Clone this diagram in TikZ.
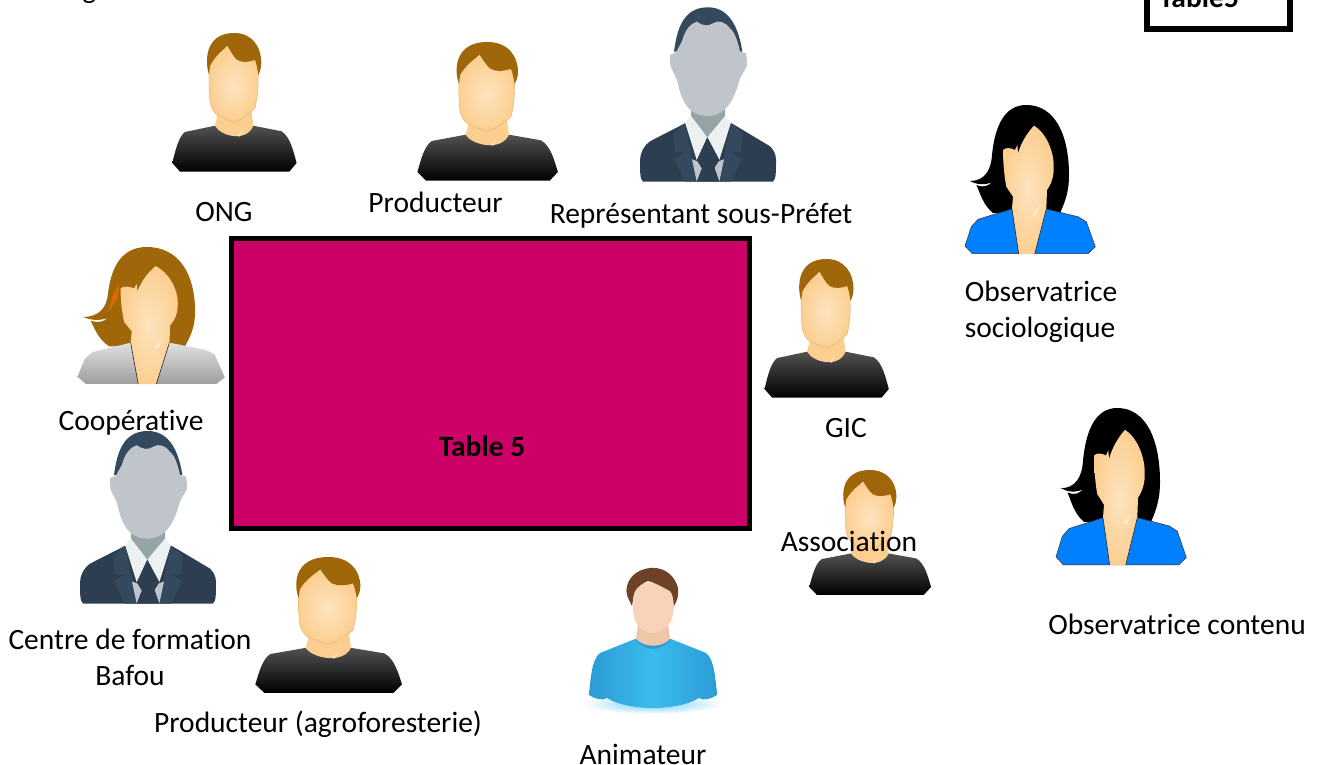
\documentclass[tikz,border=0pt]{standalone}
\usepackage{fontspec}
\setmainfont[Ligatures=NoCommon]{Carlito}
\usetikzlibrary{positioning}
\definecolor{skincol}{HTML}{FCCF91}
\definecolor{skinlight}{HTML}{FDE3BE}
\definecolor{skinline}{HTML}{E0B070}
\definecolor{hairbrown}{HTML}{A0660A}
\definecolor{jacketblue}{HTML}{0080FF}
\definecolor{suitdark}{HTML}{2C3E50}
\definecolor{suitlight}{HTML}{34495E}
\definecolor{facegrey}{HTML}{BFC5CA}
\definecolor{neckgrey}{HTML}{95A5A6}
\definecolor{collarwhite}{HTML}{ECF0F1}
\definecolor{tablecol}{HTML}{CC0066}
\definecolor{animblue}{HTML}{3BBBEC}
\definecolor{animside}{HTML}{2B9BD6}
\definecolor{animskin}{HTML}{F8D3BA}
\definecolor{animhair}{HTML}{6E4226}
\tikzset{
  lbl/.style={font=\fontsize{29.5}{36}\selectfont, inner sep=0pt, align=center},
  lblbold/.style={lbl, font=\fontsize{29.5}{36}\selectfont\bfseries},
  skinface/.style={inner color=skinlight, outer color=skincol},
  tablebox/.style={draw=black, line width=5.5pt, fill=tablecol, inner sep=0pt},
  pics/manperson/.style={code={
    \shade[top color=black!68, bottom color=black] (-62,130) -- (-54.3,138.7) -- (55,138.7) -- (62.3,130)
      .. controls (59,118) and (56,104) .. (47.3,98.3) -- (19,92.7) -- (-19.3,92.7) -- (-49.3,99)
      .. controls (-56,104) and (-59,118) .. cycle;
    \fill[skincol] (-16,78) -- (-19.3,92.7) .. controls (-14,103) and (12,110) .. (19,92.7) -- (17.3,78) -- cycle;
    \shade[skinface, draw=skinline, line width=.4pt] (-25.3,41.7) .. controls (-25.5,55) and (-25,64) .. (-24.3,70)
      .. controls (-23,75) and (-20,80) .. (-17.7,81.7) .. controls (-10,85) and (-5,88) .. (0,89)
      .. controls (7,87) and (15,80) .. (20.7,75) .. controls (23,65) and (24,55) .. (24,41.7)
      -- (24,15) -- (-25,15) -- cycle;
    \fill[hairbrown] (-25.3,41.7) .. controls (-29,31) and (-31,0) .. (0,0)
      .. controls (18,0) and (27,14) .. (27,30) .. controls (27,34) and (26,38) .. (24,42)
      .. controls (23,35) and (22,30) .. (20.7,27) .. controls (15,29) and (8,30) .. (3,27)
      .. controls (-1,24) and (-4,17) .. (-7,13) .. controls (-12,17) and (-20,24) .. (-24.3,33) -- cycle;
    \fill[white, opacity=.5] (3,103) -- (8,97) -- (5,104) -- cycle;
  }},
  pics/womanperson/.style 2 args={code={
    \fill[#1] (-37,108) .. controls (-47,100) and (-50,88) .. (-53.5,80) .. controls (-46,83) and (-42,81) .. (-38,77)
      .. controls (-46,81) and (-55,79) .. (-60,76) .. controls (-46,76) and (-39,66) .. (-38,50)
      .. controls (-35,20) and (-25,0) .. (-3.7,0) .. controls (25,0) and (39,30) .. (39,70)
      .. controls (39,85) and (36,95) .. (30,108) -- cycle;
    \path[#2] (-65,141) -- (-57.7,148.7) -- (58,148.7) -- (65.3,141.7) -- (56.3,116.7) -- (48,111.7)
      -- (16.3,104) -- (-18,104) -- (-52,114.3) -- (-58.7,121.7) -- cycle;
    \shade[skinface] (4,20.7) .. controls (-3,28) and (-9,38) .. (-12,48.3) -- (-12.7,40) -- (-15,45)
      .. controls (-19,43) and (-24,42) .. (-27,45) .. controls (-27,55) and (-26,70) .. (-23.7,81.7)
      -- (-17,91.7) -- (-18,104) -- (-11.3,149) -- (4.7,149) -- (16.3,104) -- (17,85)
      .. controls (22,78) and (24,70) .. (23.7,61.7) .. controls (24,45) and (15,27) .. (4,20.7) -- cycle;
    \draw[black!85, line width=.6pt] (-18,104) -- (-11.3,149) (16.3,104) -- (4.7,149);
    \fill[white, opacity=.5] (2,110) -- (10,100) -- (6,110) -- cycle;
  }},
  pics/suitperson/.style={code={
    \fill[suitdark] (-68,153) .. controls (-68,165) and (-68,172) .. (-65,174.3) -- (65,174.3)
      .. controls (68,172) and (68,165) .. (68,153) .. controls (68,146) and (65,142) .. (62,139)
      -- (23.7,116) -- (-23,116) -- (-58,134) .. controls (-64,138) and (-68,146) .. cycle;
    \fill[suitlight] (-23,116) -- (-34.7,126) -- (-33,145) -- (-24,145) -- (-34,152) -- (-23,174.3) -- (-11,174.3) -- (-19.7,132.7) -- cycle;
    \fill[suitlight] (23,116) -- (34.7,126) -- (33,145) -- (24,145) -- (34,152) -- (23,174.3) -- (11,174.3) -- (19.7,132.7) -- cycle;
    \fill[neckgrey] (-17,98) -- (-17,113) -- (-0.7,130) -- (17,113) -- (17,98) -- cycle;
    \fill[facegrey] (-16,152) -- (-10.7,154) -- (-5.3,162.7) -- (-11.3,174.3) -- cycle;
    \fill[facegrey] (16,152) -- (10.7,154) -- (5.3,162.7) -- (11.3,174.3) -- cycle;
    \fill[collarwhite] (-17,108.7) -- (-23,115) -- (-11.3,152.7) -- (-0.7,130) -- cycle;
    \fill[collarwhite] (17,108.7) -- (23,115) -- (11.3,152.7) -- (-0.7,130) -- cycle;
    \fill[suitdark] (-0.7,130) -- (11.3,152.7) -- (6,159) -- (11.3,174.3) -- (-11.3,174.3) -- (-5.3,159) -- (-10.7,152.7) -- cycle;
    \fill[suitlight] (-34,44.3) .. controls (-31,22) and (-25,0) .. (0,0) .. controls (22,0) and (31,22) .. (34.3,44.3)
      -- (20,44) -- (-20,44) -- cycle;
    \fill[facegrey] (-38,47.7) .. controls (-38.5,53) and (-38,56) .. (-37.3,59.3) -- (-31,72.7) .. controls (-28,85) and (-24,109) .. (0,108.7)
      .. controls (20,108) and (27,89.3) .. (32,71) -- (38.7,59.3) .. controls (39,55) and (39,50) .. (38,46)
      -- (32,44.3) .. controls (30,35) and (27,25) .. (22,21) .. controls (18,15) and (10,12) .. (5,16)
      .. controls (0,19) and (-5,19) .. (-11,14.3) .. controls (-17,16) and (-23,22) .. (-26,34) -- (-32,45) -- cycle;
  }},
  pics/animperson/.style={code={
    \shade[inner color=animblue!70, outer color=white] (0,136) ellipse (70 and 10);
    \shade[left color=animside, right color=animside, middle color=animblue] (-64.3,126.7) .. controls (-62,112) and (-62,92) .. (-53,85)
      -- (-18,71) -- (18,71) -- (53,85) .. controls (62,92) and (62,112) .. (64.3,126.7)
      .. controls (58,131) and (50,133) .. (46,130) .. controls (35,137) and (15,140) .. (0,140)
      .. controls (-15,140) and (-35,137) .. (-46,130) .. controls (-50,133) and (-58,131) .. cycle;
    \fill[animside] (-18,71) .. controls (-10,84) and (10,84) .. (18,71) -- cycle;
    \fill[animskin!85!brown] (-15,55) -- (-17,71) .. controls (-8,80) and (8,80) .. (17,71) -- (15,55) -- cycle;
    \fill[animskin] (-20,37) .. controls (-20,45) and (-19,50) .. (-18,53) .. controls (-12,62) and (-5,65) .. (0,65)
      .. controls (5,65) and (12,62) .. (18,53) .. controls (20,48) and (21,42) .. (21,35)
      -- (17,15) -- (-17,15) -- cycle;
    \fill[animhair] (-21,38) .. controls (-25,30) and (-28,25) .. (-26,18) .. controls (-23,6) and (-12,1) .. (-3,0)
      .. controls (5,-1) and (20,2) .. (25,20) .. controls (26,28) and (24,33) .. (21,38)
      .. controls (20,30) and (20,27) .. (17,23) .. controls (8,18) and (0,14) .. (-5,13)
      .. controls (-10,15) and (-15,18) .. (-18,23) .. controls (-20,28) and (-20,33) .. cycle;
  }}
}
\begin{document}
\begin{tikzpicture}[x=1pt, y=-1pt]
\useasboundingbox (0,0) rectangle (1322,765);
\clip (0,0) rectangle (1322,765);
% table
\node[tablebox, minimum width=518pt, minimum height=290pt] (table) at (490.5,383.5) {};
\node[lblbold] (tablelbl) at (482,446) {Table 5};
\node[tablebox, fill=white, minimum width=143pt, minimum height=80pt] (tablebox) at (1218.5,-11) {};
\node[lblbold, anchor=base] (tablename) at (1199,8) {Table5};
\node[lbl, anchor=base west] (toptext) at (9,-1) {de diagnostic};
% people
\pic (ong) at (234.3,33) {manperson};
\pic[xscale=1.13] (prod) at (487.5,42) {manperson};
\pic (sous) at (708,7.3) {suitperson};
\pic (obssoc) at (1030,105) {womanperson={black}{fill=jacketblue, draw=black!80, line width=.5pt}};
\pic[xscale=1.13, yscale=.92] (coop) at (151,247) {womanperson={hairbrown}{top color=black!12, bottom color=black!38}};
\fill[orange!85!black] (113,295) -- (119,283) -- (118,298) -- (108,312) -- cycle;
\pic (gic) at (826.5,259) {manperson};
\pic[yscale=.9, xscale=.98] (asso) at (870,470) {manperson};
\pic[yscale=1.055] (obscont) at (1121,408) {womanperson={black}{fill=jacketblue, draw=black!80, line width=.5pt}};
\pic[yscale=.99] (centre) at (148,431) {suitperson};
\pic[xscale=1.18, yscale=.98] (agro) at (328.5,557) {manperson};
\pic (anim) at (653,568) {animperson};
% labels
\node[lbl] (ongl) at (224,212) {ONG};
\node[lbl] (prodl) at (435.5,202) {Producteur};
\node[lbl] (sousl) at (701,216) {Repr\'esentant sous-Pr\'efet};
\node[lbl, align=left] (obssocl) at (1041,312) {Observatrice\\sociologique};
\node[lbl] (coopl) at (131,423) {Coop\'erative};
\node[lbl] (gicl) at (846,428) {GIC};
\node[lbl] (assol) at (849,541) {Association};
\node[lbl] (obscontl) at (1177,624) {Observatrice contenu};
\node[lbl] (centrel) at (130,657) {Centre de formation\\Bafou};
\node[lbl] (agrol) at (318,724) {Producteur (agroforesterie)};
\node[lbl] (animl) at (643,754) {Animateur};
\end{tikzpicture}
\end{document}
